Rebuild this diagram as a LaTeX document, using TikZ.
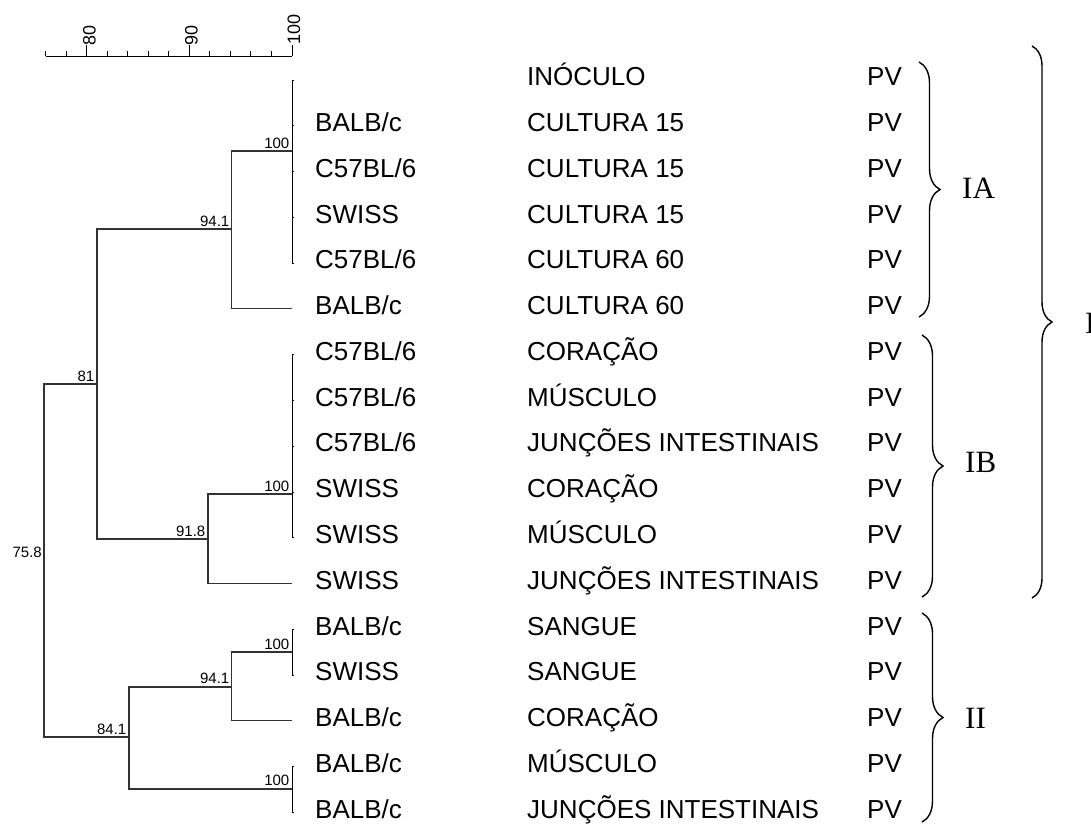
\documentclass[tikz,border=0pt]{standalone}
\usepackage{fontspec}
\setmainfont{Liberation Sans}
\newfontfamily\grpserif{Liberation Serif}
\usetikzlibrary{decorations.pathreplacing}
\newcommand\leafrow[3]{%
  \pgfmathsetmacro\rowbase{85.8+45.77*#1}%
  \node[leaftxt] (st#1) at (315,\rowbase) {#2};%
  \node[leaftxt] (ti#1) at (527,\rowbase) {#3};%
  \node[leaftxt] (pv#1) at (867,\rowbase) {PV};%
}
\begin{document}
\begin{tikzpicture}[x=1pt,y=-1pt,
  dline/.style={draw=black!80,line width=1.1pt},
  cline/.style={draw=black,line width=1pt},
  leaftxt/.style={anchor=base west,inner sep=0pt,font=\fontsize{26}{30}\selectfont},
  simlbl/.style={anchor=south east,inner sep=0pt,font=\fontsize{15}{18}\selectfont},
  scalelbl/.style={rotate=90,anchor=west,inner sep=0pt,font=\fontsize{18}{20}\selectfont},
  grpbrace/.style={decorate,decoration={brace,amplitude=#1},line width=1.4pt},
  grplbl/.style={anchor=base west,inner sep=0pt,font=\grpserif\fontsize{31}{34}\selectfont}
]
\useasboundingbox (0,0) rectangle (1091,823);

% ---- scale ----
\coordinate (sL) at (45.5,56);
\coordinate (sR) at (292,56);
\draw[line width=1pt] (sL) -- (sR);
\foreach \v in {76,78,...,100}{
  \pgfmathsetmacro\tx{292-(100-\v)*10.27}
  \draw[line width=1pt] (\tx,56) -- (\tx,51);
}
\foreach \v in {80,90,100}{
  \pgfmathsetmacro\tx{292-(100-\v)*10.27}
  \draw[line width=1pt] (\tx,56) -- (\tx,45);
}
\node[scalelbl] (k80) at (89.5,45.5) {80};
\node[scalelbl] (k90) at (191.5,45.5) {90};
\node[scalelbl] (k100) at (294,44.5) {100};

% ---- leaves ----
\foreach \i in {0,...,16}{
  \pgfmathsetmacro\ly{80+45.77*\i}
  \coordinate (L\i) at (292,\ly);
}
% ---- internal nodes ----
\coordinate (a100) at (292,151);
\coordinate (a941) at (231.5,229);
\coordinate (b100) at (292,494);
\coordinate (b918) at (208,539);
\coordinate (n81)  at (97,384);
\coordinate (root) at (44,560);
\coordinate (c100) at (292,652);
\coordinate (c941) at (231.5,687);
\coordinate (d100) at (292,789);
\coordinate (n841) at (129,737);

% clades of identical profiles
\draw[cline] (L0) -- (L4);
\draw[cline] (L6) -- (L10);
\draw[cline] (L12) -- (L13);
\draw[cline] (L15) -- (L16);
\foreach \i in {0,1,2,3,4,6,7,8,9,10,12,13,15,16}{
  \draw[line width=0.6pt] (L\i) -- ++(2,0);
}

% tree
\draw[dline] (a941) |- (a100);
\draw[dline] (a941) |- (L5);
\draw[dline] (b918) |- (b100);
\draw[dline] (b918) |- (L11);
\draw[dline] (n81) |- (a941);
\draw[dline] (n81) |- (b918);
\draw[dline] (c941) |- (c100);
\draw[dline] (c941) |- (L14);
\draw[dline] (n841) |- (c941);
\draw[dline] (n841) |- (d100);
\draw[dline] (root) |- (n81);
\draw[dline] (root) |- (n841);

% similarity labels
\node[simlbl] (t1) at (289.5,149) {100};
\node[simlbl] (t2) at (229.5,226.5) {94.1};
\node[simlbl] (t3) at (289.5,492) {100};
\node[simlbl] (t4) at (205.5,536.5) {91.8};
\node[simlbl] (t5) at (94.5,381.5) {81};
\node[simlbl] (t6) at (42,558) {75.8};
\node[simlbl] (t7) at (126.5,734.5) {84.1};
\node[simlbl] (t8) at (229.5,683.5) {94.1};
\node[simlbl] (t9) at (289.5,649.5) {100};
\node[simlbl] (t10) at (289.5,786) {100};

% ---- text rows ----
\pgfmathsetmacro\rowbase{85.8}
\node[leaftxt] (ti0) at (527,\rowbase) {INÓCULO};
\node[leaftxt] (pv0) at (867,\rowbase) {PV};
\leafrow{1}{BALB/c}{CULTURA 15}
\leafrow{2}{C57BL/6}{CULTURA 15}
\leafrow{3}{SWISS}{CULTURA 15}
\leafrow{4}{C57BL/6}{CULTURA 60}
\leafrow{5}{BALB/c}{CULTURA 60}
\leafrow{6}{C57BL/6}{CORAÇÃO}
\leafrow{7}{C57BL/6}{MÚSCULO}
\leafrow{8}{C57BL/6}{JUNÇÕES INTESTINAIS}
\leafrow{9}{SWISS}{CORAÇÃO}
\leafrow{10}{SWISS}{MÚSCULO}
\leafrow{11}{SWISS}{JUNÇÕES INTESTINAIS}
\leafrow{12}{BALB/c}{SANGUE}
\leafrow{13}{SWISS}{SANGUE}
\leafrow{14}{BALB/c}{CORAÇÃO}
\leafrow{15}{BALB/c}{MÚSCULO}
\leafrow{16}{BALB/c}{JUNÇÕES INTESTINAIS}

% ---- braces ----
\coordinate (ia1) at (919,62);   \coordinate (ia2) at (919,317);
\coordinate (ib1) at (922,335);  \coordinate (ib2) at (922,597);
\coordinate (ii1) at (922,613);  \coordinate (ii2) at (922,822);
\coordinate (i1)  at (1032,46);  \coordinate (i2)  at (1032,598);
\draw[grpbrace=21pt] (ia1) -- (ia2);
\draw[grpbrace=21pt] (ib1) -- (ib2);
\draw[grpbrace=21pt] (ii1) -- (ii2);
\draw[grpbrace=20pt] (i1) -- (i2);
\node[grplbl] (gIA) at (962,198) {IA};
\node[grplbl] (gIB) at (965,472) {IB};
\node[grplbl] (gII) at (965,728) {II};
\node[grplbl] (gI)  at (1085,333) {I};
\end{tikzpicture}
\end{document}
